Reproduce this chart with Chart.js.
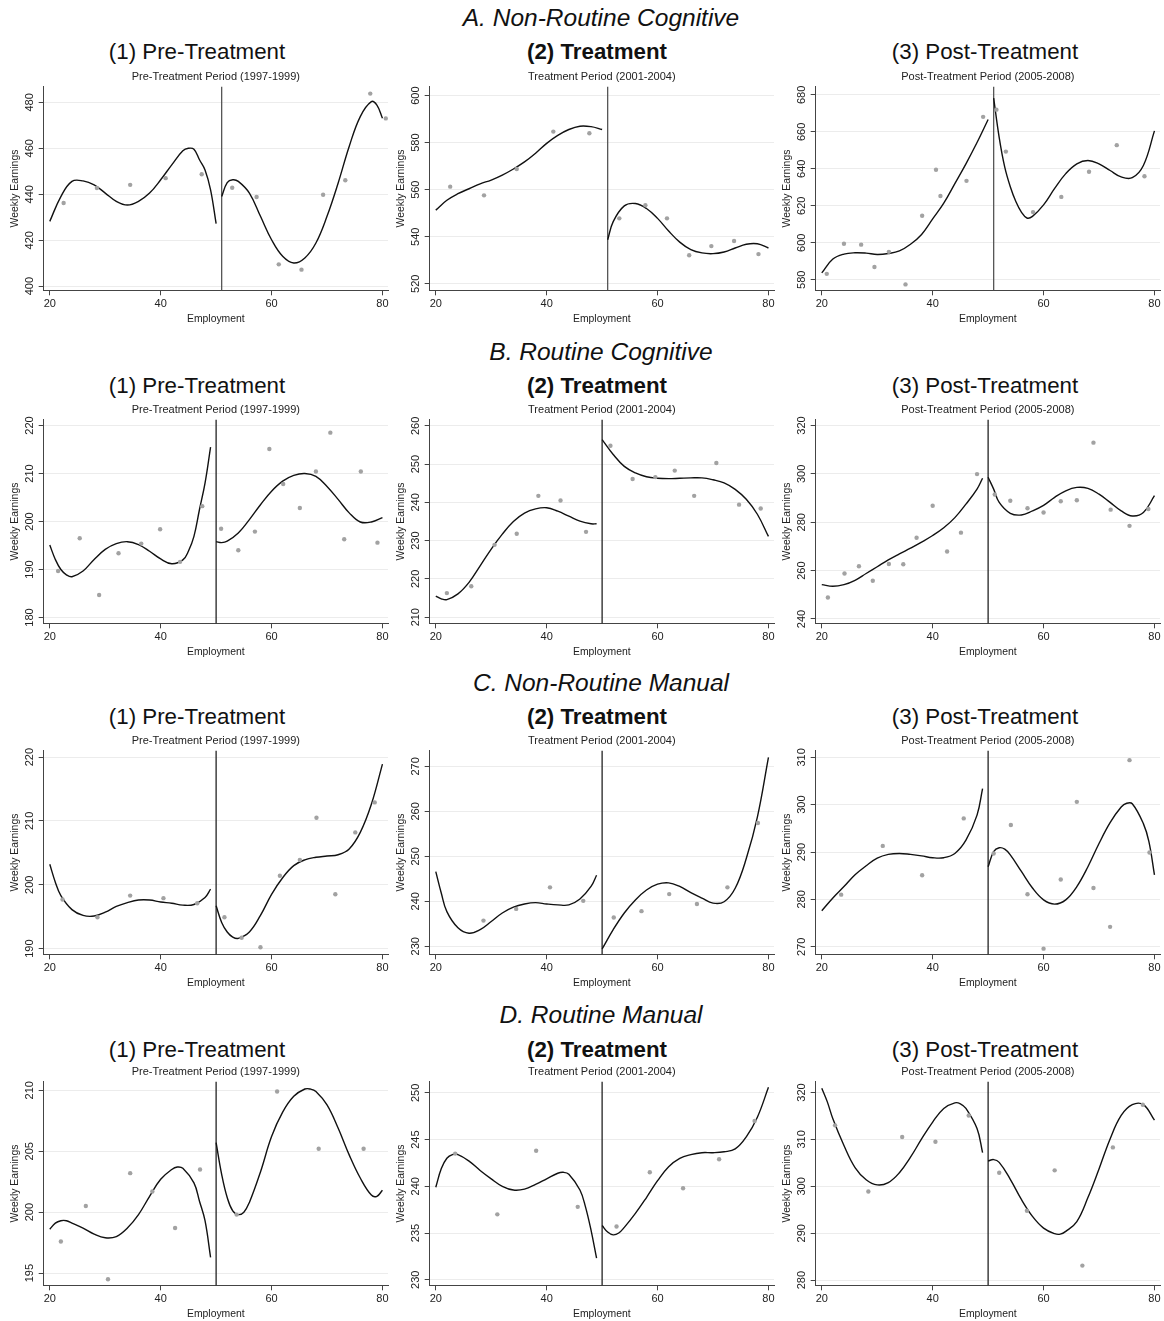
<!DOCTYPE html>
<html>
<head>
<meta charset="utf-8">
<script src="https://cdn.jsdelivr.net/npm/chart.js@4.4.1/dist/chart.umd.min.js"></script>
<style>
  body { margin: 0; background: #fff; width: 1164px; height: 1321px; position: relative; overflow: hidden;
         font-family: "Liberation Sans", Arial, sans-serif; color: #111; }
  .sec { position: absolute; font-style: italic; font-size: 24.5px; white-space: nowrap; transform: translate(-50%, -50%); }
  .col { position: absolute; font-size: 22.3px; white-space: nowrap; transform: translate(-50%, -50%); }
  canvas { position: absolute; }
</style>
</head>
<body>
<script>
//------------------------------- Textos -------------------------------//
const sections = ["A. Non-Routine Cognitive", "B. Routine Cognitive", "C. Non-Routine Manual", "D. Routine Manual"];
const columns = ["(1) Pre-Treatment", "(2) Treatment", "(3) Post-Treatment"];
const subtitles = ["Pre-Treatment Period (1997-1999)", "Treatment Period (2001-2004)", "Post-Treatment Period (2005-2008)"];
const xTicks = [20, 40, 60, 80];
const cutoffs = [51, 50, 50, 50]; // one per row

//------------------------------- A. Non-Routine Cognitive -------------------------------//
const a1Points = [[22.5,436.2],[28.5,442.7],[34.5,444.1],[40.9,447.0],[47.4,448.7],[52.9,442.8],[57.3,438.8],[61.3,409.5],[65.4,407.2],[69.3,439.8],[73.3,446.1],[77.8,483.8],[80.6,473.0]];
const a1Left = [[20,428.2],[22,439.0],[24,445.6],[26,445.8],[28,444.1],[30,440.5],[32,436.9],[34,435.3],[36,436.9],[38,440.5],[40,446.3],[42,452.8],[44,458.9],[45,460.0],[46,459.6],[47,455.0],[48,450.6],[49,441.9],[50,427.2]];
const a1Right = [[51,439.0],[52,445.1],[53,446.3],[54,445.6],[56,440.5],[58,430.4],[60,420.2],[62,413.0],[64,410.1],[66,412.3],[68,418.8],[70,430.4],[72,444.8],[74,460.8],[76,473.8],[78,480.3],[79,478.8],[80,473.1]];
const a1Ticks = [400, 420, 440, 460, 480];
const a1Range = [398.2, 486.8];

const a2Points = [[22.6,561.3],[28.7,557.6],[34.6,568.8],[41.2,584.7],[47.7,584.0],[53.1,547.8],[57.8,553.4],[61.7,547.8],[65.7,532.1],[69.7,536.0],[73.8,538.2],[78.2,532.6]];
const a2Left = [[20,551.3],[22,555.5],[24,558.3],[26,560.4],[28,562.5],[30,564.1],[32,566.2],[34,568.8],[36,571.8],[38,575.5],[40,579.7],[42,583.1],[44,585.6],[46,587.0],[48,586.8],[50,585.6]];
const a2Right = [[51,538.7],[52,546.4],[54,553.1],[56,554.1],[58,552.0],[60,547.8],[62,542.4],[64,537.7],[66,534.5],[68,533.1],[70,532.8],[72,533.5],[74,535.2],[76,536.8],[78,537.0],[80,535.2]];
const a2Ticks = [520, 540, 560, 580, 600];
const a2Range = [517.2, 603.8];

const a3Points = [[20.9,583.2],[24.0,599.5],[27.1,599.0],[29.5,586.9],[32.1,595.1],[35.1,577.5],[38.1,614.6],[40.6,639.5],[41.4,625.3],[46.1,633.5],[49.1,668.1],[51.5,672.0],[53.2,649.3],[58.1,616.6],[63.2,624.8],[68.2,638.4],[73.2,652.8],[78.2,636.0]];
const a3Left = [[20,583.7],[22,591.2],[24,593.9],[26,594.6],[28,594.4],[30,593.7],[32,594.2],[34,595.6],[36,599.2],[38,604.5],[40,612.9],[42,621.4],[44,632.0],[46,642.7],[48,654.2],[50,666.7]];
const a3Right = [[51,678.2],[52,656.9],[53,640.9],[54,630.3],[55,622.3],[56,616.6],[57,613.4],[58,614.3],[60,620.5],[62,629.4],[64,637.4],[66,642.7],[68,644.5],[70,642.7],[72,639.1],[74,635.6],[76,635.2],[78,641.8],[80,660.5]];
const a3Ticks = [580, 600, 620, 640, 660, 680];
const a3Range = [574.3, 684.4];

//------------------------------- B. Routine Cognitive -------------------------------//
const b1Points = [[21.5,189.7],[25.4,196.5],[28.9,184.7],[32.4,193.4],[36.5,195.4],[39.9,198.4],[43.5,191.6],[47.5,203.2],[50.9,198.5],[54.0,194.0],[57.0,197.9],[59.6,215.1],[62.1,207.8],[65.1,202.8],[68.0,210.4],[70.6,218.5],[73.1,196.3],[76.1,210.4],[79.1,195.6]];
const b1Left = [[20,195.1],[21,192.1],[22,190.0],[23,188.9],[24,188.5],[26,189.7],[28,192.1],[30,194.2],[32,195.4],[34,195.8],[36,195.2],[38,193.8],[40,192.2],[42,191.2],[44,192.0],[45,193.8],[46,196.9],[47,202.5],[48,208.0],[49,215.5]];
const b1Right = [[50,195.8],[51,195.6],[52,195.9],[54,197.6],[56,200.4],[58,203.5],[60,206.3],[62,208.4],[64,209.6],[66,210.0],[68,209.4],[70,207.3],[72,204.6],[74,201.8],[76,199.9],[78,199.9],[80,200.8]];
const b1Ticks = [180, 190, 200, 210, 220];
const b1Range = [178.8, 221.2];

const b2Points = [[22.0,216.3],[26.4,218.1],[30.6,228.9],[34.6,231.8],[38.5,241.7],[42.5,240.5],[47.1,232.3],[51.5,254.8],[55.5,246.1],[59.6,246.6],[63.1,248.3],[66.6,241.7],[70.6,250.3],[74.7,239.4],[78.6,238.4]];
const b2Left = [[20,215.5],[21,214.8],[22,214.6],[24,216.1],[26,219.1],[28,223.4],[30,227.8],[32,231.7],[34,235.0],[36,237.2],[38,238.3],[40,238.6],[42,237.7],[44,236.4],[46,235.1],[48,234.4],[49,234.4]];
const b2Right = [[50,256.4],[52,252.5],[54,249.4],[56,247.7],[58,246.7],[60,246.3],[62,246.2],[64,246.3],[66,246.4],[68,246.4],[70,245.9],[72,245.1],[74,243.4],[76,240.8],[78,236.9],[80,231.1]];
const b2Ticks = [210, 220, 230, 240, 250, 260];
const b2Range = [208.4, 261.6];

const b3Points = [[21.1,248.9],[24.1,258.8],[26.7,261.8],[29.2,255.8],[32.1,262.7],[34.7,262.6],[37.1,273.6],[40.0,286.8],[42.6,267.9],[45.1,275.7],[48.0,299.9],[51.2,291.5],[54.0,288.9],[57.1,285.8],[60.0,284.0],[63.1,288.7],[66.0,289.1],[69.0,312.9],[72.1,285.2],[75.5,278.5],[78.9,285.5]];
const b3Left = [[20,254.2],[22,253.5],[24,254.2],[26,256.0],[28,258.8],[30,261.6],[32,264.4],[34,266.9],[36,269.3],[38,271.8],[40,274.5],[42,277.7],[44,281.9],[46,287.5],[48,293.7],[49,298.2]];
const b3Right = [[50,298.6],[51,293.7],[52,288.2],[54,283.7],[56,283.0],[58,284.7],[60,287.0],[62,290.3],[64,293.0],[66,294.4],[68,294.0],[70,291.6],[72,288.2],[74,284.7],[76,282.6],[78,284.0],[80,291.0]];
const b3Ticks = [240, 260, 280, 300, 320];
const b3Range = [238.2, 322.4];

//------------------------------- C. Non-Routine Manual -------------------------------//
const c1Points = [[22.3,197.7],[28.6,194.9],[34.5,198.3],[40.5,197.9],[46.6,197.1],[51.5,194.9],[54.6,191.7],[58.0,190.2],[61.5,201.4],[65.1,203.9],[68.1,210.5],[71.5,198.5],[75.1,208.2],[78.6,212.9]];
const c1Left = [[20,203.2],[21,200.4],[22,198.3],[24,196.1],[26,195.2],[28,195.1],[30,195.7],[32,196.6],[34,197.2],[36,197.6],[38,197.6],[40,197.3],[42,197.1],[44,196.8],[46,196.9],[48,198.0],[49,199.3]];
const c1Right = [[50,196.7],[51,194.1],[52,192.6],[53,191.8],[54,191.6],[56,192.6],[58,195.2],[60,198.5],[62,201.1],[64,203.0],[66,203.9],[68,204.3],[70,204.5],[72,204.7],[74,205.6],[76,208.2],[78,212.6],[80,218.9]];
const c1Ticks = [190, 200, 210, 220];
const c1Range = [189.1, 221.0];

const c2Points = [[28.6,235.7],[34.5,238.3],[40.6,243.1],[46.6,240.1],[52.1,236.4],[57.1,237.8],[62.1,241.6],[67.1,239.4],[72.6,243.1],[78.1,257.4]];
const c2Left = [[20,246.6],[21,241.8],[22,237.7],[24,234.1],[26,232.9],[28,233.7],[30,235.5],[32,237.4],[34,238.7],[36,239.4],[38,239.7],[40,239.4],[42,239.2],[44,239.2],[46,240.5],[48,243.3],[49,245.8]];
const c2Right = [[50,229.4],[52,233.7],[54,237.4],[56,240.3],[58,242.5],[60,243.8],[62,244.1],[64,243.3],[66,241.9],[68,240.7],[70,239.6],[72,239.9],[74,242.9],[76,249.5],[78,258.7],[80,272.0]];
const c2Ticks = [230, 240, 250, 260, 270];
const c2Range = [228.2, 273.5];

const c3Points = [[23.5,281.0],[31.0,291.3],[38.1,285.1],[45.6,297.1],[51.0,289.7],[54.1,295.7],[57.1,281.1],[60.0,269.6],[63.1,284.2],[66.0,300.6],[69.0,282.4],[72.0,274.2],[75.5,309.4],[79.1,289.9]];
const c3Left = [[20,277.6],[22,280.3],[24,282.7],[26,285.2],[28,287.1],[30,288.7],[32,289.5],[34,289.7],[36,289.5],[38,289.2],[40,288.8],[42,288.8],[44,289.7],[46,292.5],[48,297.8],[49,303.4]];
const c3Right = [[50,286.9],[51,290.1],[52,290.9],[53,290.6],[54,289.4],[56,285.9],[58,282.4],[60,279.9],[62,279.0],[64,279.9],[66,282.7],[68,286.9],[70,291.8],[72,296.2],[74,299.5],[75,300.3],[76,300.2],[78,296.0],[79,292.2],[80,285.2]];
const c3Ticks = [270, 280, 290, 300, 310];
const c3Range = [268.4, 311.4];

//------------------------------- D. Routine Manual -------------------------------//
const d1Points = [[22.0,197.6],[26.5,200.5],[30.5,194.5],[34.5,203.2],[38.5,201.7],[42.6,198.7],[47.1,203.5],[53.7,199.8],[61.0,209.9],[68.5,205.2],[76.6,205.2]];
const d1Left = [[20,198.6],[21,199.1],[22,199.3],[23,199.3],[24,199.1],[26,198.7],[28,198.2],[30,197.9],[32,198.0],[34,198.7],[36,199.8],[38,201.3],[40,202.7],[42,203.5],[43,203.7],[44,203.6],[46,202.4],[47,200.9],[48,199.3],[49,196.3]];
const d1Right = [[50,205.7],[51,203.1],[52,201.2],[53,200.1],[54,199.8],[55,200.0],[56,200.8],[58,203.3],[60,206.2],[62,208.2],[64,209.5],[66,210.1],[67,210.1],[68,209.9],[70,208.8],[72,206.9],[74,204.7],[76,202.8],[78,201.4],[79,201.3],[80,201.8]];
const d1Ticks = [195, 200, 205, 210];
const d1Range = [194.0, 210.7];

const d2Points = [[23.5,243.5],[31.1,237.0],[38.1,243.8],[45.6,237.8],[52.6,235.7],[58.6,241.5],[64.6,239.8],[71.1,242.9],[77.5,247.0]];
const d2Left = [[20,239.9],[21,241.9],[22,243.0],[23,243.4],[24,243.4],[26,242.7],[28,241.7],[30,240.8],[32,240.0],[34,239.6],[36,239.7],[38,240.2],[40,240.8],[42,241.4],[43,241.5],[44,241.3],[46,239.6],[47,237.8],[48,235.3],[49,232.3]];
const d2Right = [[50,235.8],[51,235.1],[52,234.8],[53,235.0],[54,235.6],[56,237.1],[58,238.8],[60,240.6],[62,242.1],[64,243.0],[66,243.4],[68,243.6],[70,243.6],[72,243.7],[74,244.0],[76,245.3],[78,247.4],[80,250.6]];
const d2Ticks = [230, 235, 240, 245, 250];
const d2Range = [229.4, 251.2];

const d3Points = [[22.4,313.0],[28.4,298.9],[34.5,310.5],[40.5,309.5],[46.5,315.1],[52.0,302.9],[57.0,294.8],[62.0,303.4],[67.0,283.1],[72.5,308.3],[77.9,317.4]];
const d3Left = [[20,320.9],[21,318.0],[22,314.4],[24,308.7],[26,304.0],[28,301.4],[30,300.3],[32,300.8],[34,302.9],[36,306.2],[38,310.1],[40,313.7],[42,316.6],[44,317.8],[45,317.6],[46,316.6],[48,312.3],[49,307.2]];
const d3Right = [[50,305.4],[51,305.7],[52,305.1],[54,301.5],[56,297.2],[58,293.6],[60,291.1],[62,289.9],[63,289.8],[64,290.4],[66,292.5],[68,297.6],[70,303.7],[72,310.1],[74,315.1],[76,317.4],[78,317.4],[80,314.1]];
const d3Ticks = [280, 290, 300, 310, 320];
const d3Range = [278.9, 322.3];

//------------------------------- Tabla de paneles -------------------------------//
const panels = [
  [a1Points, a1Left, a1Right, a1Ticks, a1Range], [a2Points, a2Left, a2Right, a2Ticks, a2Range], [a3Points, a3Left, a3Right, a3Ticks, a3Range],
  [b1Points, b1Left, b1Right, b1Ticks, b1Range], [b2Points, b2Left, b2Right, b2Ticks, b2Range], [b3Points, b3Left, b3Right, b3Ticks, b3Range],
  [c1Points, c1Left, c1Right, c1Ticks, c1Range], [c2Points, c2Left, c2Right, c2Ticks, c2Range], [c3Points, c3Left, c3Right, c3Ticks, c3Range],
  [d1Points, d1Left, d1Right, d1Ticks, d1Range], [d2Points, d2Left, d2Right, d2Ticks, d2Range], [d3Points, d3Left, d3Right, d3Ticks, d3Range],
];

// layout of the page (pixels)
const rowTop = [66, 399, 730, 1061];
const colLeft = [0, 386, 772];
const sectionY = [18, 352, 683, 1015];
const columnY = [52, 386, 717, 1050];
const columnX = [197, 597, 985];
const cutoffColor = ["#555", "#222", "#222", "#222"];

Chart.defaults.font.family = '"Liberation Sans", Arial, sans-serif';
Chart.defaults.color = "#222";

// vertical line at the cutoff, drawn through the x scale
const cutoffLine = {
  id: "cutoffLine",
  beforeDatasetsDraw(chart, args, opts) {
    const { ctx, chartArea, scales } = chart;
    const px = scales.x.getPixelForValue(opts.value);
    ctx.save();
    ctx.strokeStyle = opts.color;
    ctx.lineWidth = 1.3;
    ctx.beginPath();
    ctx.moveTo(px, chartArea.top);
    ctx.lineTo(px, chartArea.bottom);
    ctx.stroke();
    ctx.restore();
  },
};

const toXY = (pairs) => pairs.map((p) => ({ x: p[0], y: p[1] }));

function addText(cls, text, x, y, bold) {
  const d = document.createElement("div");
  d.className = cls;
  d.textContent = text;
  d.style.left = x + "px";
  d.style.top = y + "px";
  if (bold) d.style.fontWeight = "bold";
  document.body.appendChild(d);
}

//------------------------------- Render -------------------------------//
sections.forEach((s, r) => {
  addText("sec", s, 601, sectionY[r], false);
  columns.forEach((c, k) => addText("col", c, columnX[k], columnY[r], k === 1));
});

panels.forEach((p, i) => {
  const r = Math.floor(i / 3);
  const k = i % 3;
  const [pts, left, right, yTicks, yRange] = p;
  const canvas = document.createElement("canvas");
  canvas.width = 392;
  canvas.height = 267;
  canvas.style.left = colLeft[k] + "px";
  canvas.style.top = rowTop[r] + "px";
  document.body.appendChild(canvas);

  const curve = { showLine: true, pointRadius: 0, borderColor: "#111", borderWidth: 1.4, tension: 0.4, fill: false };
  new Chart(canvas, {
    type: "scatter",
    data: {
      datasets: [
        { data: toXY(pts), pointRadius: 2.2, pointBackgroundColor: "#a2a2a2", pointBorderWidth: 0 },
        Object.assign({ data: toXY(left) }, curve),
        Object.assign({ data: toXY(right) }, curve),
      ],
    },
    options: {
      responsive: false,
      animation: false,
      layout: { padding: { left: 5, right: 0, top: 0, bottom: 0 } },
      plugins: {
        legend: { display: false },
        tooltip: { enabled: false },
        title: { display: true, text: subtitles[k], fullSize: false, font: { size: 11, weight: "normal" }, color: "#222", padding: { top: 4.5, bottom: 3 } },
        cutoffLine: { value: cutoffs[r], color: cutoffColor[r] },
      },
      scales: {
        x: {
          type: "linear", min: 18.9, max: 81,
          afterBuildTicks: (axis) => { axis.ticks = xTicks.map((v) => ({ value: v })); },
          ticks: { font: { size: 11 }, padding: 2, color: "#222" },
          grid: { display: true, drawOnChartArea: false, tickLength: 5, tickColor: "#444" },
          border: { display: true, color: "#444", width: 1 },
          title: { display: true, text: "Employment", font: { size: 10.4 }, color: "#222", padding: { top: 0, bottom: 8 } },
        },
        y: {
          type: "linear", min: yRange[0], max: yRange[1],
          afterBuildTicks: (axis) => { axis.ticks = yTicks.map((v) => ({ value: v })); },
          ticks: { font: { size: 11 }, padding: 0, minRotation: 90, maxRotation: 90, crossAlign: "center", color: "#222" },
          grid: { color: "#ececec", tickLength: 5, tickColor: "#444" },
          border: { display: true, color: "#444", width: 1 },
          title: { display: true, text: "Weekly Earnings", font: { size: 10.4 }, color: "#222", padding: { top: 4, bottom: 4 } },
        },
      },
    },
    plugins: [cutoffLine],
  });
});
</script>
</body>
</html>
